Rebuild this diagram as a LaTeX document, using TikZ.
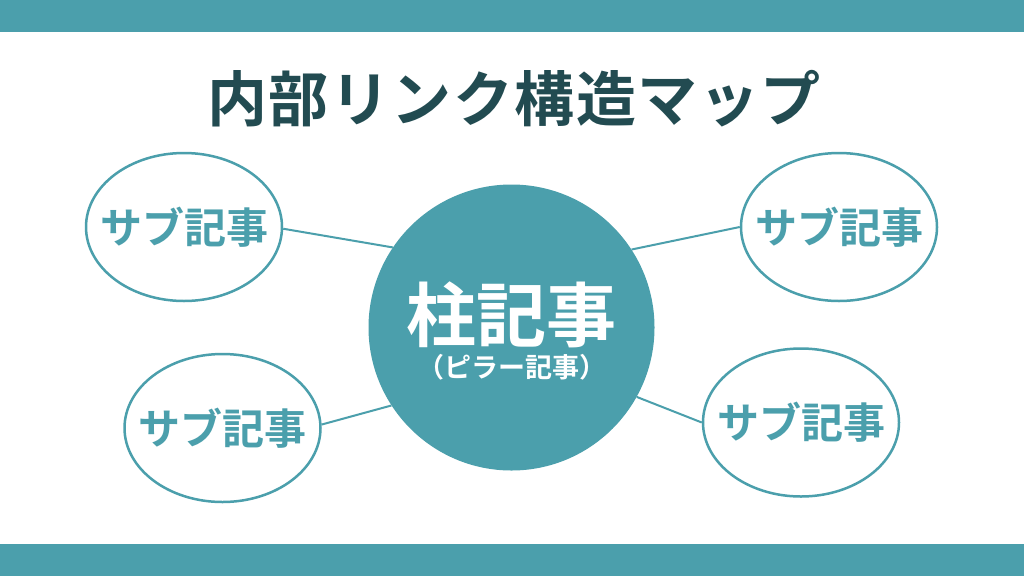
\documentclass[tikz,border=0pt]{standalone}
\usepackage{fontspec}
\newfontfamily\jpb{Noto Sans CJK JP Bold}
\newfontfamily\jpbt[LetterSpace=2.5]{Noto Sans CJK JP Bold}
\usetikzlibrary{shapes.geometric}
\definecolor{teal1}{HTML}{4B9FAC}
\definecolor{dark1}{HTML}{224B51}
\tikzset{
  band/.style={fill=teal1, draw=none},
  sub/.style={draw=teal1, line width=2.5pt, ellipse, minimum width=196pt, minimum height=148pt, inner sep=0pt, fill=white},
  subtext/.style={font=\jpb\fontsize{42}{42}\selectfont, text=teal1, inner sep=0pt},
  pillar/.style={circle, fill=teal1, minimum size=286pt, inner sep=0pt},
  link/.style={draw=teal1, line width=2pt},
}
\begin{document}
\begin{tikzpicture}[x=1pt,y=-1pt]
\useasboundingbox (0,0) rectangle (1024,576);
\fill[white] (0,0) rectangle (1024,576);
\fill[band] (0,0) rectangle (1024,32);
\fill[band] (0,544) rectangle (1024,576);
\node[font=\jpbt\fontsize{60}{60}\selectfont, text=dark1, inner sep=0pt] (title) at (514,99) {内部リンク構造マップ};
\node[pillar] (c) at (511.5,327.5) {};
\node[sub] (tl) at (184,227) {};
\node[sub] (tr) at (839,227) {};
\node[sub] (bl) at (222.5,428) {};
\node[sub] (br) at (801,422.5) {};
\draw[link] (tl.-1.7) -- (c.146.8);
\draw[link] (c.33.4) -- (tr.180);
\draw[link] (bl.2) -- (c.213.5);
\draw[link] (c.-29.7) -- (br.180);
\node[subtext] (tlt) at (tl.center) {サブ記事};
\node[subtext] (trt) at (tr.center) {サブ記事};
\node[subtext] (blt) at (bl.center) {サブ記事};
\node[subtext] (brt) at (br.center) {サブ記事};
\node[font=\jpb\fontsize{70}{70}\selectfont, text=white, inner sep=0pt] (ct) at (511.5,314.5) {柱記事};
\node[font=\jpb\fontsize{27}{27}\selectfont, text=white, inner sep=0pt] (cs) at (511.5,367.5) {（ピラー記事）};
\end{tikzpicture}
\end{document}
